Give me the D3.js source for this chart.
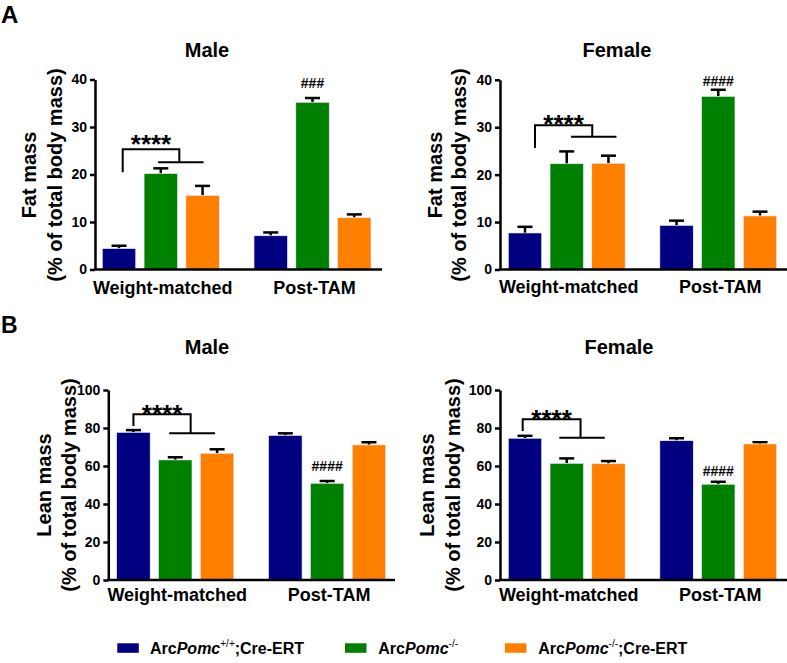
<!DOCTYPE html>
<html><head><meta charset="utf-8">
<script src="https://cdn.jsdelivr.net/npm/d3@7"></script>
<style>body{margin:0;background:#fff}svg{display:block}text{font-family:"Liberation Sans",Arial,sans-serif;font-weight:bold;fill:#000}</style>
</head><body>
<script>
// ---------- DATA ----------
const groups = ["Weight-matched", "Post-TAM"];
const seriesNames = ["ArcPomc+/+;Cre-ERT", "ArcPomc-/-", "ArcPomc-/-;Cre-ERT"];
const seriesColors = ["#000080", "#008000", "#FF8000"];
const fatTicks = [0, 10, 20, 30, 40];
const leanTicks = [0, 20, 40, 60, 80, 100];
// means [group][series]
const fatMale = [[4.4, 20.2, 15.6], [7.1, 35.2, 10.9]];
const fatMaleErr = [[0.6, 1.1, 2.0], [0.7, 0.9, 0.7]];
const fatFemale = [[7.7, 22.3, 22.4], [9.3, 36.5, 11.3]];
const fatFemaleErr = [[1.3, 2.6, 1.6], [1.0, 1.4, 0.9]];
const leanMale = [[77.7, 63.2, 66.7], [76.1, 50.9, 71.1]];
const leanMaleErr = [[1.2, 1.4, 2.1], [1.1, 1.2, 1.4]];
const leanFemale = [[74.6, 61.4, 61.2], [73.3, 50.4, 71.6]];
const leanFemaleErr = [[1.3, 2.6, 1.4], [1.3, 1.3, 0.9]];
// significance annotations: [legBottom, top, subLine, starBottom] in data units; hash label and its baseline value
const sigFatMale = [20.5, 25.3, 22.6, 26.8];
const sigFatFemale = [25.6, 30.4, 28.0, 31.1];
const sigLeanMale = [81.1, 87.2, 77.2, 88.6];
const sigLeanFemale = [78.4, 84.6, 74.9, 85.6];
const hashFatMale = ["###", 38.3];
const hashFatFemale = ["####", 38.7];
const hashLeanMale = ["####", 57.4];
const hashLeanFemale = ["####", 55.0];

// ---------- LAYOUT ----------
const panels = [
  {title:"Male", ylab:["Fat mass","(% of total body mass)"], means:fatMale, errs:fatMaleErr, yMax:40, ticks:fatTicks,
   x0:95, gx0:102.3, gx1:371, x1:382, yTop:79.5, yBot:269.5, titleX:207, titleY:56.7, lab1X:36, lab2X:61.5, labY:175, xlabY:293.5,
   sig:sigFatMale, legDx:3.7, sub0:-2.7, sub1:1, hash:hashFatMale},
  {title:"Female", ylab:["Fat mass","(% of total body mass)"], means:fatFemale, errs:fatFemaleErr, yMax:40, ticks:fatTicks,
   x0:500, gx0:508.3, gx1:776.7, x1:787, yTop:79.8, yBot:269.5, titleX:617, titleY:56.7, lab1X:441.5, lab2X:466, labY:175, xlabY:292.5,
   sig:sigFatFemale, legDx:10, sub0:4.3, sub1:8, hash:hashFatFemale},
  {title:"Male", ylab:["Lean mass","(% of total body mass)"], means:leanMale, errs:leanMaleErr, yMax:100, ticks:leanTicks,
   x0:108.3, gx0:116.7, gx1:385.7, x1:395, yTop:390, yBot:580, titleX:207, titleY:354.3, lab1X:50.7, lab2X:76, labY:485, xlabY:601,
   sig:sigLeanMale, legDx:0, sub0:-6, sub1:-2, hash:hashLeanMale},
  {title:"Female", ylab:["Lean mass","(% of total body mass)"], means:leanFemale, errs:leanFemaleErr, yMax:100, ticks:leanTicks,
   x0:500, gx0:508.3, gx1:776.7, x1:787, yTop:390, yBot:580, titleX:619, titleY:354.3, lab1X:434, lab2X:460, labY:485, xlabY:601,
   sig:sigLeanFemale, legDx:-2.3, sub0:-7.4, sub1:-3.7, hash:hashLeanFemale}
];

const svg = d3.select("body").append("svg").attr("width", 787).attr("height", 663);

svg.append("text").attr("x", 1).attr("y", 22.7).attr("font-size", 24).text("A");
svg.append("text").attr("x", 1).attr("y", 332.7).attr("font-size", 23).text("B");

panels.forEach(p => {
  const g = svg.append("g");
  const xg = d3.scaleBand().domain(groups).range([p.gx0, p.gx1]).paddingInner(0.229).paddingOuter(0);
  const xs = d3.scaleBand().domain(d3.range(3)).range([0, xg.bandwidth()]).paddingInner(0.2).paddingOuter(0);
  const y = d3.scaleLinear().domain([0, p.yMax]).range([p.yBot, p.yTop]);
  const cx = (gi, si) => xg(groups[gi]) + xs(si) + xs.bandwidth()/2;

  // bars
  groups.forEach((grp, gi) => {
    p.means[gi].forEach((v, si) => {
      const c = cx(gi, si);
      const top = y(v + p.errs[gi][si]);
      g.append("line").attr("x1", c).attr("x2", c).attr("y1", y(v)).attr("y2", top)
        .attr("stroke", "#000").attr("stroke-width", 2.5);
      g.append("line").attr("x1", c - 7.5).attr("x2", c + 7.5).attr("y1", top).attr("y2", top)
        .attr("stroke", "#000").attr("stroke-width", 2.5);
      g.append("rect").attr("x", xg(grp) + xs(si)).attr("y", y(v))
        .attr("width", xs.bandwidth()).attr("height", y(0) - y(v))
        .attr("fill", seriesColors[si]).attr("stroke", "#eef").attr("stroke-width", 0.6);
    });
  });

  // y axis
  const ya = d3.axisLeft(y).tickValues(p.ticks).tickSize(5).tickPadding(3).tickSizeOuter(0);
  const ag = g.append("g").attr("transform", `translate(${p.x0},0)`).call(ya);
  ag.select(".domain").attr("stroke", "#000").attr("stroke-width", 2.5);
  ag.selectAll(".tick line").attr("stroke", "#000").attr("stroke-width", 2.5);
  ag.selectAll(".tick text").attr("font-size", 14).attr("font-family", '"Liberation Sans",Arial,sans-serif').attr("font-weight", "bold").attr("fill", "#000");
  // x axis line
  g.append("line").attr("x1", p.x0 - 1.2).attr("x2", p.x1).attr("y1", y(0)).attr("y2", y(0))
    .attr("stroke", "#000").attr("stroke-width", 2.5);
  // x labels
  groups.forEach(grp => {
    g.append("text").attr("x", xg(grp) + xg.bandwidth()/2 + 2).attr("y", p.xlabY)
      .attr("text-anchor", "middle").attr("font-size", 18).text(grp);
  });
  // title
  g.append("text").attr("x", p.titleX).attr("y", p.titleY).attr("text-anchor", "middle").attr("font-size", 20).text(p.title);
  // y labels
  g.append("text").attr("transform", `translate(${p.lab1X},${p.labY}) rotate(-90)`).attr("text-anchor", "middle").attr("font-size", 20).text(p.ylab[0]);
  g.append("text").attr("transform", `translate(${p.lab2X},${p.labY}) rotate(-90)`).attr("text-anchor", "middle").attr("font-size", 20).text(p.ylab[1]);

  // bracket
  const leg = cx(0, 0) + p.legDx;
  const s0 = cx(0, 1) + p.sub0, s1 = cx(0, 2) + p.sub1;
  const conn = (s0 + s1) / 2 - 1.5;
  g.append("path").attr("d", `M${leg},${y(p.sig[0])}V${y(p.sig[1])}H${conn}V${y(p.sig[2])}`)
    .attr("fill", "none").attr("stroke", "#000").attr("stroke-width", 2);
  g.append("line").attr("x1", s0).attr("x2", s1).attr("y1", y(p.sig[2])).attr("y2", y(p.sig[2]))
    .attr("stroke", "#000").attr("stroke-width", 2);
  g.append("text").attr("x", (leg + conn)/2).attr("y", y(p.sig[3]) + 11).attr("text-anchor", "middle")
    .attr("font-size", 26).text("****");
  // hash
  g.append("text").attr("x", cx(1, 1)).attr("y", y(p.hash[1])).attr("text-anchor", "middle")
    .attr("font-size", 14).attr("font-weight", "normal").text(p.hash[0]);
});

// legend
const legendX = [117.3, 345, 505];
const legendTextX = [150, 378.3, 538.3];
const legendParts = [
  ["Arc", "Pomc", "+/+", ";Cre-ERT"],
  ["Arc", "Pomc", "-/-", ""],
  ["Arc", "Pomc", "-/-", ";Cre-ERT"]
];
seriesNames.forEach((s, i) => {
  svg.append("rect").attr("x", legendX[i]).attr("y", 643.3).attr("width", 21.5).attr("height", 9.5).attr("fill", seriesColors[i]);
  const t = svg.append("text").attr("x", legendTextX[i]).attr("y", 654.3).attr("font-size", 16);
  const pr = legendParts[i];
  t.append("tspan").text(pr[0]);
  t.append("tspan").attr("font-style", "italic").text(pr[1]);
  t.append("tspan").attr("font-size", 10).attr("dy", -7).attr("font-weight", "normal").text(pr[2]);
  if (pr[3]) t.append("tspan").attr("dy", 7).text(pr[3]);
});
</script>
</body></html>
